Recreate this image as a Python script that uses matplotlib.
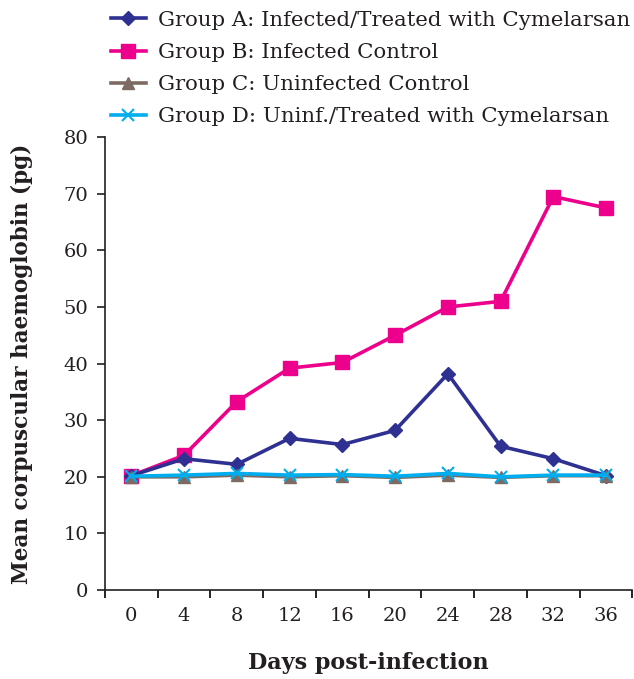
import matplotlib
matplotlib.use('Agg')
import matplotlib.pyplot as plt
import numpy as np

days = ['0', '4', '8', '12', '16', '20', '24', '28', '32', '36']
group_a = [20.2, 23.2, 22.2, 26.8, 25.7, 28.2, 38.2, 25.4, 23.2, 20.2]
group_b = [20.2, 23.8, 33.3, 39.2, 40.2, 45.0, 50.0, 51.0, 69.5, 67.5]
group_c = [20.0, 20.0, 20.3, 20.0, 20.2, 19.9, 20.3, 19.9, 20.2, 20.2]
group_d = [20.1, 20.3, 20.6, 20.3, 20.4, 20.1, 20.6, 20.0, 20.3, 20.3]

labels = ['Group A: Infected/Treated with Cymelarsan',
          'Group B: Infected Control',
          'Group C: Uninfected Control',
          'Group D: Uninf./Treated with Cymelarsan']

plt.rcParams['font.family'] = ['DejaVu Serif']

fig = plt.figure(figsize=(6.34, 6.79), dpi=100)
ax = fig.add_axes([0.1656, 0.131, 0.832, 0.667])

x = np.arange(len(days))
ax.plot(x, group_a, color='#2e3192', lw=2.6, marker='D', ms=7, label=labels[0], zorder=4)
ax.plot(x, group_b, color='#ec008c', lw=2.6, marker='s', ms=9.5, label=labels[1], zorder=3)
ax.plot(x, group_c, color='#7d6b63', lw=2.6, marker='^', ms=8.5, label=labels[2], zorder=5)
ax.plot(x, group_d, color='#00aeef', lw=2.6, marker='x', ms=8, mew=1.5, label=labels[3], zorder=6)

ax.set_xlim(-0.5, 9.5)
ax.set_ylim(0, 80)
ax.set_yticks(range(0, 81, 10))
ax.set_xticks(x)
ax.set_xticklabels(days)
ax.set_xticks(np.arange(-0.5, 10, 1), minor=True)
ax.tick_params(axis='x', which='major', length=0, pad=12, labelsize=14, colors='#231f20')
ax.tick_params(axis='x', which='minor', length=6, width=1.2, direction='out')
ax.tick_params(axis='y', length=6, width=1.2, direction='out', labelsize=14, pad=6, colors='#231f20')

for s in ['top', 'right']:
    ax.spines[s].set_visible(False)
for s in ['left', 'bottom']:
    ax.spines[s].set_linewidth(1.2)
    ax.spines[s].set_color('#231f20')

ax.set_xlabel('Days post-infection', fontsize=16, fontweight='bold', labelpad=20, color='#231f20')
ax.set_ylabel('Mean corpuscular haemoglobin (pg)', fontsize=15.5, fontweight='bold', labelpad=22,
              color='#231f20')

leg = ax.legend(loc='lower left', bbox_to_anchor=(-0.005, 1.005), frameon=False, fontsize=15.3,
                handlelength=1.65, handletextpad=0.55, labelspacing=0.62, borderaxespad=0)
for t in leg.get_texts():
    t.set_color('#231f20')

fig.savefig('out.png', dpi=100)
